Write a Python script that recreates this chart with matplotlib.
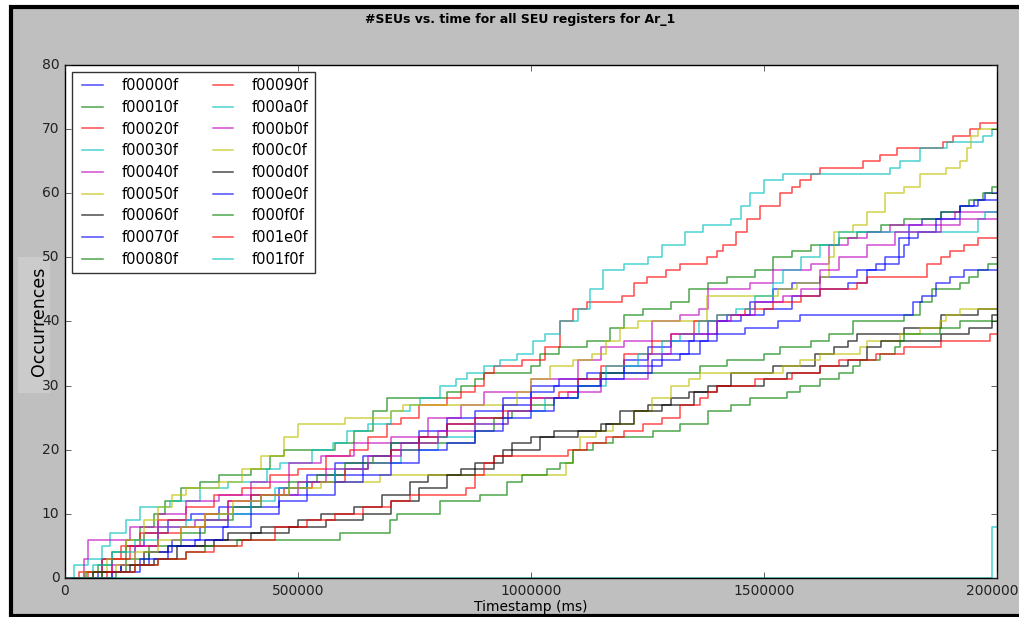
import matplotlib
matplotlib.use("Agg")
import matplotlib.pyplot as plt
from matplotlib.patches import Rectangle

# cumulative SEU counts per register: (timestamp in 1000 ms, occurrences)
reg_f00000f = [(0, 0), (40, 1), (80, 3), (130, 5), (170, 7), (220, 9), (270, 10), (330, 11), (400, 13), (460, 14),
               (520, 16), (580, 18), (640, 19), (700, 21), (760, 23), (820, 25), (880, 26), (940, 28), (1000, 30),
               (1060, 31), (1120, 32), (1200, 33), (1280, 35), (1340, 37), (1380, 40), (1420, 41), (1470, 43),
               (1520, 45), (1560, 46), (1620, 47), (1700, 48), (1740, 49), (1790, 50), (1800, 52), (1810, 55),
               (1840, 56), (1880, 57), (1920, 58), (1950, 59), (1975, 60), (2000, 60)]
reg_f00010f = [(0, 0), (45, 1), (70, 2), (100, 4), (130, 6), (160, 8), (190, 10), (215, 12), (250, 14), (290, 15),
               (330, 16), (400, 17), (440, 19), (470, 20), (580, 21), (620, 23), (660, 26), (690, 28), (820, 29),
               (850, 30), (880, 31), (900, 32), (1000, 33), (1020, 35), (1060, 36), (1120, 37), (1170, 39),
               (1200, 41), (1240, 42), (1300, 43), (1340, 45), (1380, 46), (1420, 47), (1480, 48), (1520, 50),
               (1560, 51), (1600, 52), (1660, 53), (1700, 54), (1750, 55), (1800, 56), (1880, 57), (1920, 58),
               (1940, 59), (1970, 60), (1990, 61), (2000, 61)]
reg_f00020f = [(0, 0), (30, 1), (80, 3), (120, 5), (160, 7), (200, 9), (260, 11), (320, 13), (380, 14), (440, 16),
               (500, 17), (560, 19), (612, 20), (650, 22), (690, 24), (720, 25), (760, 27), (820, 28), (850, 29),
               (880, 30), (900, 32), (920, 33), (980, 34), (1030, 36), (1062, 40), (1090, 42), (1120, 43),
               (1195, 44), (1220, 46), (1249, 47), (1290, 48), (1320, 49), (1378, 50), (1400, 51), (1412, 52),
               (1440, 54), (1464, 56), (1491, 58), (1534, 60), (1560, 61), (1577, 62), (1600, 63), (1620, 64),
               (1712, 65), (1749, 66), (1785, 67), (1884, 68), (1905, 69), (1942, 70), (1963, 71), (2000, 71)]
reg_f00030f = [(0, 0), (20, 2), (50, 3), (80, 5), (97, 7), (130, 9), (161, 11), (225, 12), (290, 14), (350, 15),
               (433, 17), (461, 18), (530, 20), (575, 21), (605, 23), (650, 24), (700, 26), (740, 27), (762, 28),
               (805, 30), (840, 31), (863, 32), (900, 33), (934, 34), (970, 35), (1004, 37), (1030, 38),
               (1062, 40), (1100, 42), (1127, 45), (1155, 48), (1200, 49), (1250, 50), (1280, 52), (1330, 54),
               (1369, 55), (1430, 56), (1450, 58), (1470, 60), (1500, 62), (1540, 63), (1770, 64), (1792, 65),
               (1835, 67), (1893, 68), (1970, 69), (1990, 70), (2000, 70)]
reg_f00040f = [(0, 0), (40, 3), (50, 6), (110, 6), (140, 8), (200, 10), (260, 12), (330, 13), (400, 15), (480, 18),
               (550, 19), (620, 21), (700, 22), (780, 25), (850, 27), (900, 29), (1000, 31), (1100, 34), (1150, 36),
               (1200, 37), (1260, 40), (1320, 41), (1360, 42), (1380, 45), (1470, 46), (1520, 48), (1600, 49),
               (1640, 52), (1680, 53), (1720, 54), (1770, 55), (1880, 56), (1910, 57), (2000, 57)]
reg_f00050f = [(0, 0), (40, 1), (90, 3), (130, 6), (170, 9), (200, 11), (230, 13), (260, 14), (330, 15), (380, 17),
               (420, 19), (470, 22), (500, 24), (600, 25), (700, 26), (725, 27), (948, 27), (970, 29), (1000, 31),
               (1040, 33), (1090, 34), (1130, 35), (1160, 37), (1190, 39), (1230, 40), (1363, 40), (1378, 44),
               (1500, 44), (1530, 45), (1570, 46), (1620, 47), (1640, 50), (1650, 54), (1690, 55), (1720, 57),
               (1760, 60), (1800, 61), (1835, 63), (1890, 64), (1920, 65), (1935, 67), (1945, 69), (1960, 70),
               (2000, 70)]
reg_f00060f = [(0, 0), (80, 1), (120, 2), (170, 4), (220, 5), (300, 6), (350, 7), (420, 8), (500, 9), (550, 10),
               (620, 11), (680, 13), (740, 15), (780, 16), (850, 17), (920, 19), (960, 21), (1000, 22), (1050, 23),
               (1150, 24), (1190, 26), (1250, 27), (1300, 28), (1340, 29), (1380, 30), (1430, 32), (1520, 33),
               (1610, 35), (1650, 36), (1680, 37), (1700, 38), (1800, 39), (1880, 41), (1960, 42), (2000, 42)]
reg_f00070f = [(0, 0), (70, 1), (120, 2), (180, 4), (230, 6), (290, 8), (350, 10), (400, 11), (460, 13), (520, 15),
               (580, 16), (640, 18), (700, 20), (760, 22), (820, 24), (880, 25), (940, 27), (1000, 29), (1050, 30),
               (1100, 31), (1150, 32), (1200, 34), (1250, 36), (1300, 37), (1350, 38), (1400, 40), (1450, 41),
               (1500, 42), (1560, 44), (1620, 45), (1680, 46), (1720, 48), (1760, 50), (1790, 53), (1830, 54),
               (1870, 56), (1920, 58), (1960, 59), (2000, 59)]
reg_f00080f = [(0, 0), (80, 1), (130, 3), (180, 5), (250, 7), (300, 9), (360, 11), (420, 13), (480, 15), (540, 16),
               (600, 18), (660, 19), (700, 21), (850, 21), (880, 23), (920, 25), (960, 26), (1000, 27), (1050, 28),
               (1100, 30), (1148, 32), (1350, 32), (1363, 33), (1420, 34), (1500, 35), (1534, 36), (1600, 37),
               (1640, 38), (1690, 40), (1800, 41), (1835, 43), (1860, 45), (1920, 46), (1940, 47), (1960, 48),
               (1980, 49), (2000, 49)]
reg_f00090f = [(0, 0), (50, 1), (100, 3), (140, 5), (200, 7), (250, 8), (300, 10), (350, 12), (400, 13), (470, 14),
               (530, 15), (600, 17), (650, 18), (700, 20), (760, 22), (820, 24), (880, 25), (940, 26), (1000, 28),
               (1060, 29), (1100, 31), (1150, 33), (1200, 35), (1260, 37), (1300, 38), (1350, 40), (1400, 41),
               (1460, 42), (1520, 43), (1580, 44), (1620, 45), (1700, 46), (1720, 47), (1850, 49), (1880, 50),
               (1900, 51), (1930, 52), (1960, 53), (2000, 53)]
reg_f000a0f = [(0, 0), (60, 2), (100, 4), (150, 6), (200, 8), (260, 9), (330, 10), (400, 12), (450, 14), (520, 15),
               (580, 17), (650, 18), (720, 20), (800, 22), (880, 24), (950, 26), (1030, 28), (1100, 30), (1160, 33),
               (1230, 35), (1280, 37), (1320, 38), (1360, 40), (1400, 41), (1440, 42), (1480, 44), (1520, 46),
               (1540, 48), (1580, 50), (1620, 52), (1660, 54), (1950, 54), (1960, 56), (1975, 57), (2000, 57)]
reg_f000b0f = [(0, 0), (100, 2), (150, 5), (200, 8), (280, 9), (350, 12), (420, 13), (500, 15), (560, 17), (650, 19),
               (720, 21), (800, 23), (880, 24), (950, 26), (1000, 28), (1080, 29), (1150, 31), (1250, 35),
               (1300, 38), (1400, 40), (1430, 41), (1480, 43), (1540, 44), (1580, 45), (1620, 48), (1660, 50),
               (1720, 52), (1780, 54), (1880, 55), (1920, 56), (2000, 56)]
reg_f000c0f = [(0, 0), (60, 1), (110, 2), (150, 4), (200, 6), (250, 8), (300, 10), (360, 12), (420, 13), (480, 14),
               (550, 15), (676, 16), (1062, 16), (1075, 18), (1090, 20), (1105, 22), (1140, 23), (1176, 24),
               (1220, 26), (1260, 28), (1300, 30), (1340, 31), (1363, 32), (1520, 32), (1540, 33), (1577, 34),
               (1620, 35), (1706, 36), (1720, 37), (1792, 38), (1835, 39), (1878, 40), (1890, 41), (1921, 42),
               (2000, 42)]
reg_f000d0f = [(0, 0), (60, 1), (140, 2), (190, 3), (240, 5), (320, 6), (400, 7), (480, 8), (560, 9), (640, 10),
               (700, 12), (760, 14), (820, 16), (880, 18), (940, 20), (1020, 22), (1100, 23), (1160, 24), (1220, 26),
               (1280, 27), (1350, 29), (1400, 30), (1500, 31), (1550, 32), (1620, 33), (1680, 34), (1720, 36),
               (1750, 37), (1880, 38), (1940, 39), (1990, 41), (2000, 41)]
reg_f000e0f = [(0, 0), (100, 1), (160, 3), (220, 5), (280, 6), (340, 8), (400, 10), (460, 12), (520, 13), (580, 15),
               (640, 16), (700, 18), (760, 20), (820, 21), (880, 23), (940, 25), (1000, 26), (1050, 28), (1100, 30),
               (1150, 31), (1200, 32), (1260, 34), (1320, 35), (1363, 37), (1400, 38), (1460, 39), (1530, 40),
               (1577, 41), (1800, 41), (1820, 43), (1840, 44), (1870, 46), (1900, 47), (1930, 48), (2000, 48)]
reg_f000f0f = [(0, 0), (110, 1), (150, 2), (200, 3), (260, 4), (300, 5), (369, 6), (590, 7), (697, 9), (712, 10),
               (805, 12), (890, 13), (948, 15), (980, 16), (1034, 17), (1062, 18), (1090, 20), (1133, 21),
               (1176, 22), (1262, 23), (1320, 24), (1380, 26), (1430, 27), (1470, 28), (1550, 29), (1577, 30),
               (1620, 31), (1660, 32), (1690, 33), (1706, 34), (1749, 35), (1780, 36), (1792, 37), (1800, 38),
               (1878, 39), (1921, 40), (2000, 40)]
reg_f001e0f = [(0, 0), (90, 1), (150, 2), (200, 3), (260, 4), (320, 5), (380, 6), (450, 8), (520, 9), (580, 10),
               (640, 11), (700, 12), (740, 13), (860, 14), (880, 16), (900, 18), (920, 19), (1080, 20), (1120, 21),
               (1160, 22), (1200, 23), (1240, 24), (1280, 25), (1320, 27), (1363, 28), (1380, 29), (1400, 30),
               (1480, 31), (1560, 32), (1620, 33), (1660, 34), (1740, 35), (1800, 36), (1880, 37), (1985, 38),
               (2000, 38)]
reg_f001f0f = [(0, 0), (1990, 8), (2000, 8)]

registers = ["f00000f", "f00010f", "f00020f", "f00030f", "f00040f", "f00050f", "f00060f", "f00070f", "f00080f",
             "f00090f", "f000a0f", "f000b0f", "f000c0f", "f000d0f", "f000e0f", "f000f0f", "f001e0f", "f001f0f"]
series = [reg_f00000f, reg_f00010f, reg_f00020f, reg_f00030f, reg_f00040f, reg_f00050f, reg_f00060f,
          reg_f00070f, reg_f00080f, reg_f00090f, reg_f000a0f, reg_f000b0f, reg_f000c0f, reg_f000d0f,
          reg_f000e0f, reg_f000f0f, reg_f001e0f, reg_f001f0f]
colors = ['b', 'g', 'r', 'c', 'm', 'y', 'k']

plt.style.use('classic')
fig = plt.figure(figsize=(10.2, 6.17), dpi=100, facecolor='white')
# grey canvas with a black frame
fig.patches.append(Rectangle((0.0105, 0.002), 1.2, 0.986, transform=fig.transFigure,
                             facecolor='#bfbfbf', edgecolor='black', linewidth=3, zorder=-10))
# lighter strip behind the y label (drawn under the tick labels)
fig.patches.append(Rectangle((0.0176, 0.363), 0.0314, 0.220, transform=fig.transFigure,
                             facecolor='#cbcbcb', edgecolor='none', zorder=-5))

ax = fig.add_axes([0.0637, 0.0632, 0.9138, 0.8315])
for i, (name, pts) in enumerate(zip(registers, series)):
    t, n = zip(*pts)
    ax.step([x * 1000 for x in t], n, where='post', color=colors[i % 7],
            alpha=0.7, linewidth=1.1, label=name)

ax.set_xlim(0, 2000000)
ax.set_ylim(0, 80)
ax.set_xticks([0, 500000, 1000000, 1500000, 2000000])
ax.tick_params(labelsize=10, colors='#222222')
ax.set_xlabel('Timestamp (ms)', fontsize=10, labelpad=2)
ax.set_ylabel('Occurrences', fontsize=12.5)
ax.yaxis.set_label_coords(-0.018, 0.5)

fig.text(0.51, 0.968, '#SEUs vs. time for all SEU registers for Ar_1',
         ha='center', va='center', fontsize=9, fontweight='bold')

leg = ax.legend(loc='upper left', ncol=2, fontsize=10.5, handlelength=2.0,
                labelspacing=0.46, columnspacing=2.0, handletextpad=1.0)
leg.get_frame().set_edgecolor('#333333')

fig.savefig('out.png', dpi=100, facecolor=fig.get_facecolor())
